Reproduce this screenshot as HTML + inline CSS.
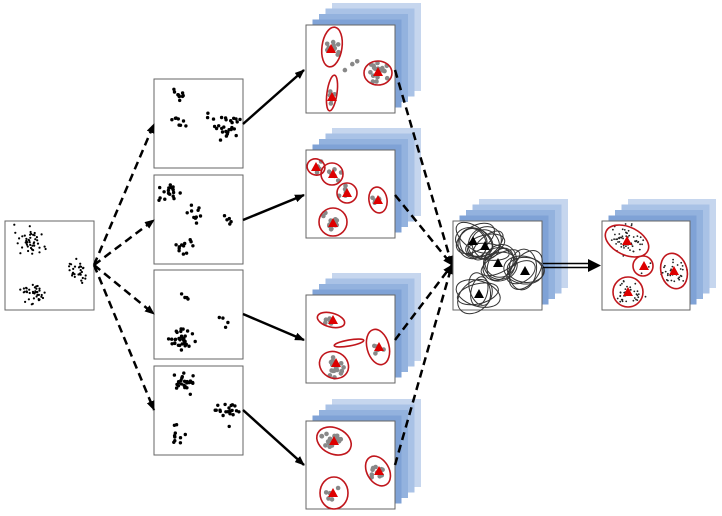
<!DOCTYPE html>
<html><head><meta charset="utf-8"><style>html,body{margin:0;padding:0;background:#fff;width:722px;height:516px;overflow:hidden}</style></head>
<body>
<svg id="s" width="722" height="516" xmlns="http://www.w3.org/2000/svg">
<defs>
<marker id="ah" markerWidth="10" markerHeight="8" refX="9" refY="4" orient="auto" markerUnits="userSpaceOnUse"><path d="M0,0 L10,4 L0,8 z" fill="#000"/></marker>
</defs>
</svg>
<script>
var s=document.getElementById('s'),h='';
var seed=7;function r(){seed=(seed*16807)%2147483647;return seed/2147483647;}
function g(){return (r()+r()+r()-1.5)*1.4;}
function box(x,y,w,hh){h+='<rect x="'+x+'" y="'+y+'" width="'+w+'" height="'+hh+'" fill="#fff" stroke="#666" stroke-width="1"/>';}
function dots(x,y,cl,col,rad){cl.forEach(function(c){for(var i=0;i<c[3];i++){var px=x+c[0]+g()*c[2],py=y+c[1]+g()*c[2]*(c[4]||1);px=Math.max(x+3,Math.min(x+86,px));py=Math.max(y+3,Math.min(y+86,py));h+='<circle cx="'+px.toFixed(1)+'" cy="'+py.toFixed(1)+'" r="'+rad+'" fill="'+col+'"/>';}});}
function stack(x,y,w,hh){var cols=['#c6d6ee','#a9c2e6','#93b2de','#7fa2d6'];for(var i=4;i>=1;i--){var dx=i*6.5,dy=-i*5.5;h+='<rect x="'+(x+dx)+'" y="'+(y+dy)+'" width="'+w+'" height="'+hh+'" fill="'+cols[4-i]+'"/>';}box(x,y,w,hh);}
function ell(cx,cy,rx,ry,a,c,sw){h+='<ellipse cx="'+cx+'" cy="'+cy+'" rx="'+rx+'" ry="'+ry+'" transform="rotate('+a+' '+cx+' '+cy+')" fill="none" stroke="'+c+'" stroke-width="'+(sw||1.5)+'"/>';}
function tri(x,y,c){h+='<polygon points="'+x+','+(y-5)+' '+(x-5)+','+(y+4)+' '+(x+5)+','+(y+4)+'" fill="'+c+'"/>';}
function line(x1,y1,x2,y2,d){h+='<line x1="'+x1+'" y1="'+y1+'" x2="'+x2+'" y2="'+y2+'" stroke="#000" stroke-width="2.5" '+(d?'stroke-dasharray="8,5" ':'')+'marker-end="url(#ah)"/>';}
box(5,221,89,89);dots(5,221,[[25,20,9,45],[72,50,7,30],[28,72,8,40]],'#000',1.1);
var c2=[[[25,15,4,10],[25,45,6,8],[75,48,8,25],[55,40,4,3]],[[15,15,8,18],[40,40,6,10],[30,70,7,12],[75,45,4,5]],[[30,25,5,4],[28,70,8,35],[70,50,4,4]],[[30,15,9,25],[70,45,9,20],[25,68,7,10]]];
[79,175,270,366].forEach(function(y,i){box(154,y,89,89);dots(154,y,c2[i],'#000',1.7);});
var ys=[25,150,295,421];ys.forEach(function(y){stack(306,y,89,88);});
var cfg=[
 [[[25,22,6,12],[72,48,7,18],[27,72,4,6],[50,42,10,3]],[[26,22,10,20,8],[72,48,14,12,0],[26,68,5,18,8]],[[25,24],[72,47],[26,72]]],
 [[[10,17,4,5],[27,24,5,6],[40,43,5,6],[27,73,7,12],[72,50,4,5]],[[10,17,9,8,20],[26,24,11,11,0],[41,43,10,10,0],[27,72,14,14,0],[72,50,9,13,-10]],[[10,17],[27,24],[41,43],[27,73],[72,50]]],
 [[[25,25,5,6],[28,70,7,18],[72,52,5,6]],[[25,25,14,7,15],[28,70,15,13,30],[43,48,15,3,-10],[72,52,11,18,-15]],[[27,25],[30,68],[73,52]]],
 [[[28,20,8,18],[72,50,6,10],[25,72,5,5]],[[28,20,18,13,25],[72,50,11,16,-30],[28,72,14,16,0]],[[28,20],[73,50],[27,72]]]];
ys.forEach(function(y,i){var c=cfg[i];dots(306,y,c[0],'#888',2.3);c[1].forEach(function(e){ell(306+e[0],y+e[1],e[2],e[3],e[4],'#c0161c',1.6);});c[2].forEach(function(t){tri(306+t[0],y+t[1],'#d00');});});
[124,220,314,410].forEach(function(y){line(94,265,154,y,1);});
line(243,124,304,70);line(243,220,304,195);line(243,314,304,340);line(243,410,304,465);
[[395,70],[395,195],[395,340],[395,465]].forEach(function(p){line(p[0],p[1],452,265,1);});
stack(453,221,89,89);
var m=[[20,20],[32,25],[45,42],[72,50],[26,73]];
for(var k=0;k<5;k++){m.forEach(function(p){ell((453+p[0]+g()*3).toFixed(1),(221+p[1]+g()*3).toFixed(1),(14+r()*9).toFixed(1),(8+r()*10).toFixed(1),(r()*180).toFixed(0),'#333',1);});}
m.forEach(function(p){tri(453+p[0],221+p[1],'#000');});
h+='<line x1="543" y1="263.5" x2="590" y2="263.5" stroke="#000" stroke-width="1.5"/><line x1="543" y1="267.5" x2="590" y2="267.5" stroke="#000" stroke-width="1.5"/><polygon points="588,259 601,265.5 588,272" fill="#000"/>';
stack(602,221,88,89);
dots(602,221,[[25,20,11,60],[72,50,8,35],[42,45,4,8],[27,72,9,40]],'#222',0.9);
ell(627,241,23,14,25,'#c0161c',1.6);ell(643,266,10,10,0,'#c0161c',1.6);ell(674,271,13,18,-15,'#c0161c',1.6);ell(628,292,15,15,0,'#c0161c',1.6);
tri(627,241,'#d00');tri(644,266,'#d00');tri(674,271,'#d00');tri(628,292,'#d00');
s.innerHTML+=h;
</script>
</body></html>
